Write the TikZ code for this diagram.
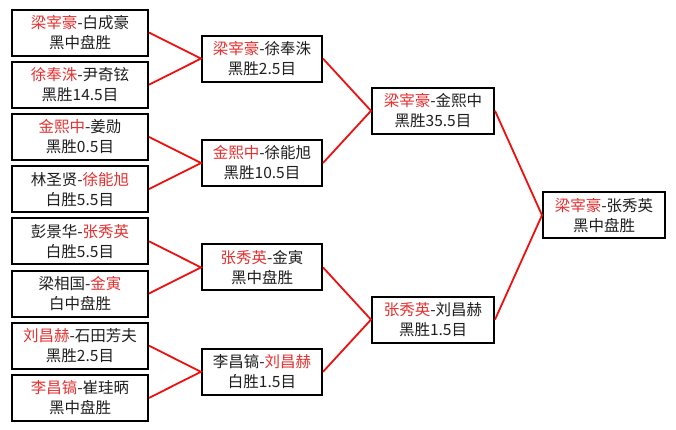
\documentclass[tikz,border=0pt]{standalone}
\usepackage{fontspec}
\setmainfont{Noto Sans CJK SC}
\definecolor{winred}{RGB}{228,48,48}
\definecolor{linkred}{RGB}{236,16,16}
\definecolor{boxtext}{RGB}{30,30,30}
\newcommand{\win}[1]{\textcolor{winred}{#1}}
\tikzset{
  game/.style={draw=black, line width=2pt, rectangle, inner sep=0pt,
    minimum height=46pt, align=center, text=boxtext,
    font=\fontsize{15.5}{20}\selectfont},
  link/.style={draw=linkred, line width=1.8pt}
}
\begin{document}
\begin{tikzpicture}[x=1pt, y=-1pt]
    \useasboundingbox (0,0) rectangle (676,429);

    % First round
    \node[game, minimum width=136pt] (r1a) at (80, 32.5) {\win{梁宰豪}-白成豪\\黑中盘胜};
    \node[game, minimum width=136pt] (r1b) at (80, 84.7) {\win{徐奉洙}-尹奇铉\\黑胜14.5目};
    \node[game, minimum width=136pt] (r1c) at (80, 136.9) {\win{金熙中}-姜勋\\黑胜0.5目};
    \node[game, minimum width=136pt] (r1d) at (80, 189.1) {林圣贤-\win{徐能旭}\\白胜5.5目};
    \node[game, minimum width=136pt] (r1e) at (80, 241.3) {彭景华-\win{张秀英}\\白胜5.5目};
    \node[game, minimum width=136pt] (r1f) at (80, 293.5) {梁相国-\win{金寅}\\白中盘胜};
    \node[game, minimum width=136pt] (r1g) at (80, 345.7) {\win{刘昌赫}-石田芳夫\\黑胜2.5目};
    \node[game, minimum width=136pt] (r1h) at (80, 397.9) {\win{李昌镐}-崔珪昞\\黑中盘胜};

    % Quarter finals
    \node[game, minimum width=120pt] (r2a) at (262, 58.6) {\win{梁宰豪}-徐奉洙\\黑胜2.5目};
    \node[game, minimum width=120pt] (r2b) at (262, 163) {\win{金熙中}-徐能旭\\黑胜10.5目};
    \node[game, minimum width=120pt] (r2c) at (262, 267.4) {\win{张秀英}-金寅\\黑中盘胜};
    \node[game, minimum width=120pt] (r2d) at (262, 371.8) {李昌镐-\win{刘昌赫}\\白胜1.5目};

    % Semi finals
    \node[game, minimum width=122pt] (r3a) at (433, 110.8) {\win{梁宰豪}-金熙中\\黑胜35.5目};
    \node[game, minimum width=122pt] (r3b) at (433, 319.6) {\win{张秀英}-刘昌赫\\黑胜1.5目};

    % Final
    \node[game, minimum width=122pt] (fin) at (604, 215.2) {\win{梁宰豪}-张秀英\\黑中盘胜};

    % Connectors
    \draw[link] (r1a.east) -- (r2a.west) -- (r1b.east);
    \draw[link] (r1c.east) -- (r2b.west) -- (r1d.east);
    \draw[link] (r1e.east) -- (r2c.west) -- (r1f.east);
    \draw[link] (r1g.east) -- (r2d.west) -- (r1h.east);
    \draw[link] (r2a.east) -- (r3a.west) -- (r2b.east);
    \draw[link] (r2c.east) -- (r3b.west) -- (r2d.east);
    \draw[link] (r3a.east) -- (fin.west) -- (r3b.east);
\end{tikzpicture}
\end{document}
